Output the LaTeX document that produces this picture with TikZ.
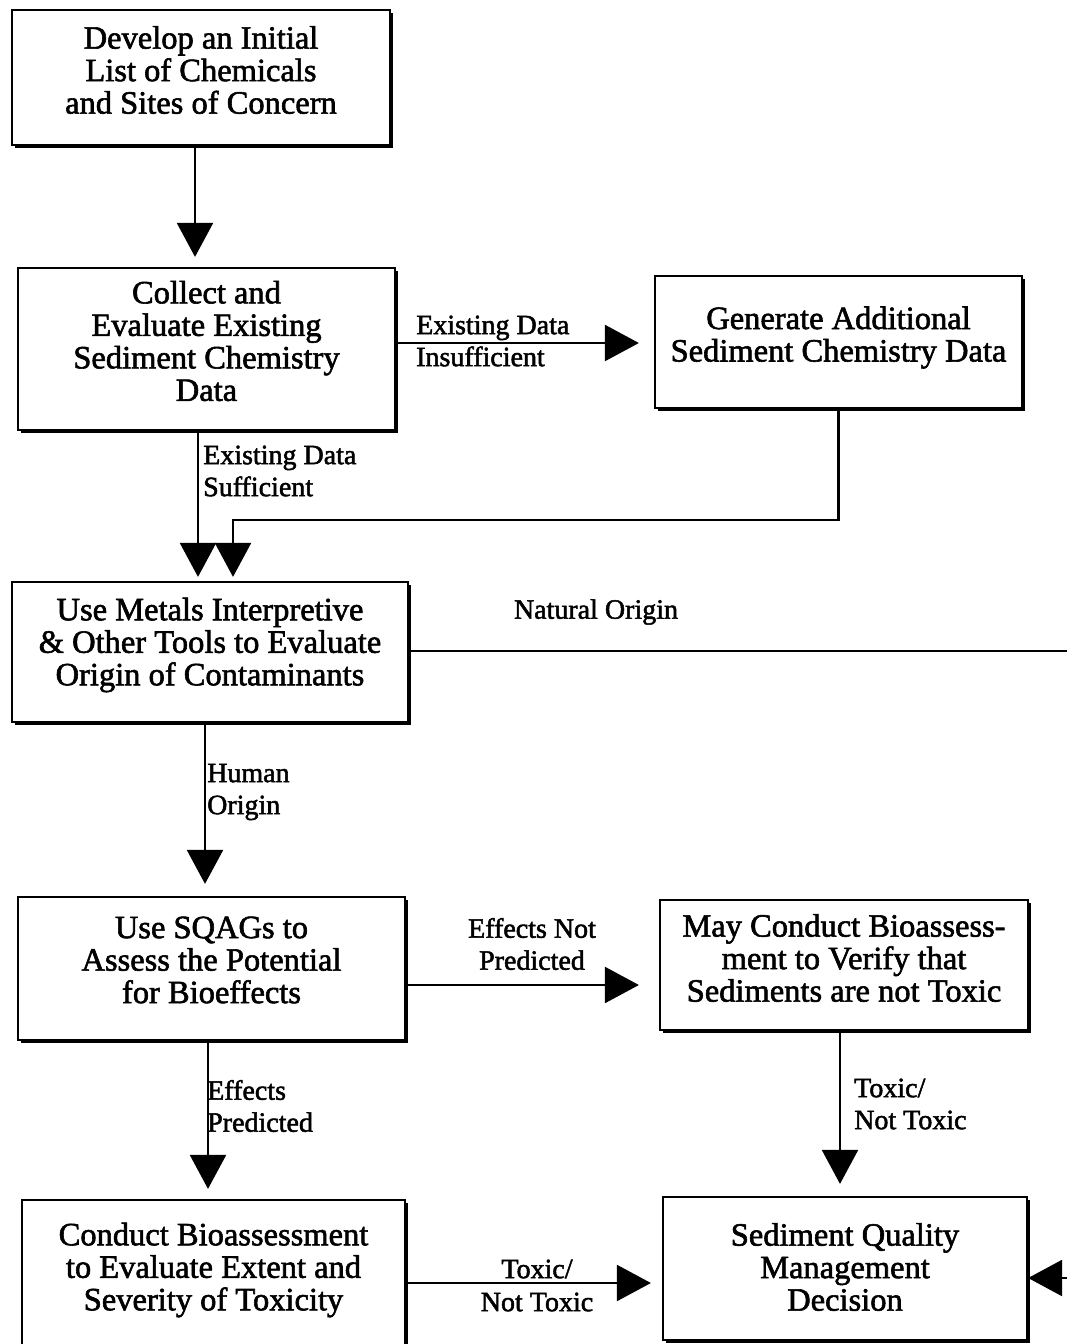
\documentclass[tikz,border=0pt]{standalone}
\usepackage{fontspec}
\setmainfont{Liberation Serif}[UprightFeatures={FakeBold=1.8}]
\usetikzlibrary{arrows.meta,shadows}
\begin{document}
\begin{tikzpicture}[x=1pt,y=-1pt,
  box/.style={draw,line width=2.2pt,fill=white,inner sep=0pt,
    drop shadow={shadow xshift=2.5pt,shadow yshift=-2.5pt,fill=black,opacity=1}},
  boxtext/.style={align=center,inner sep=0pt,font=\fontsize{32.5}{32.5}\selectfont},
  lbl/.style={font=\fontsize{28}{32}\selectfont,inner sep=0pt},
  arr/.style={line width=2.2pt,-{Triangle[length=34pt,width=36pt]}},
  ln/.style={line width=2.2pt}]
\useasboundingbox (0,0) rectangle (1067,1344);

% process boxes (text placed as a centred label, raised slightly)
\node[box,minimum width=378pt,minimum height=135pt,
  label={[boxtext,yshift=7.5pt]center:Develop an Initial\\List of Chemicals\\and Sites of Concern}]
  (A) at (201,77.5) {};
\node[box,minimum width=377pt,minimum height=162pt,
  label={[boxtext,yshift=8pt]center:Collect and\\Evaluate Existing\\Sediment Chemistry\\Data}]
  (B) at (206.5,349) {};
\node[box,minimum width=367pt,minimum height=132pt,
  label={[boxtext,yshift=4.5pt]center:Generate Additional\\Sediment Chemistry Data}]
  (C) at (838.5,342) {};
\node[box,minimum width=396pt,minimum height=140pt,
  label={[boxtext,yshift=7pt]center:Use Metals Interpretive\\\& Other Tools to Evaluate\\Origin of Contaminants}]
  (D) at (210,652) {};
\node[box,minimum width=387pt,minimum height=143pt,
  label={[boxtext,yshift=8.5pt]center:Use SQAGs to\\Assess the Potential\\for Bioeffects}]
  (E) at (211.5,968.5) {};
\node[box,minimum width=368pt,minimum height=130pt,
  label={[boxtext,yshift=7pt]center:May Conduct Bioassess-\\ment to Verify that\\Sediments are not Toxic}]
  (F) at (844,965) {};
\node[box,minimum width=383pt,minimum height=150pt,
  label={[boxtext,yshift=5pt]center:Conduct Bioassessment\\to Evaluate Extent and\\Severity of Toxicity}]
  (G) at (213.5,1275) {};
\node[box,minimum width=364pt,minimum height=143pt,
  label={[boxtext,yshift=1.5pt]center:Sediment Quality\\Management\\Decision}]
  (H) at (845,1268.5) {};

% loose ends at the right margin
\coordinate (offA) at (1067,651);
\coordinate (offB) at (1067,1278);
\coordinate (join) at (233,520);

% connectors
\draw[arr,shorten >=10pt] (A.south -| 195,0) -- (B.north -| 195,0);
\draw[arr,shorten >=15pt] (B.east |- 0,343) -- (C.west |- 0,343);
\draw[arr,shorten >=4pt] (B.south -| 198,0) -- (D.north -| 198,0);
\draw[arr,shorten >=4pt] (C.south) |- (join) -- (D.north -| join);
\draw[ln] (D.east |- offA) -- (offA);
\draw[arr] (offB) -- (H.east |- offB);
\draw[arr,shorten >=12pt] (D.south -| 205,0) -- (E.north -| 205,0);
\draw[arr,shorten >=20pt] (E.east |- 0,985) -- (F.west |- 0,985);
\draw[arr,shorten >=10pt] (E.south -| 208,0) -- (G.north -| 208,0);
\draw[arr,shorten >=12pt] (F.south -| 840,0) -- (H.north -| 840,0);
\draw[arr,shorten >=11pt] (G.east |- 0,1283) -- (H.west |- 0,1283);

% connector labels
\node[lbl,anchor=west,align=left] (l1) at (416,341) {Existing Data\\Insufficient};
\node[lbl,anchor=west,align=left] (l2) at (203,471) {Existing Data\\Sufficient};
\node[lbl] (l3) at (596,612) {Natural Origin};
\node[lbl,anchor=west,align=left] (l4) at (207,792) {Human\\Origin};
\node[lbl,align=center] (l5) at (532,944) {Effects Not\\Predicted};
\node[lbl,anchor=west,align=left] (l6) at (207,1106) {Effects\\Predicted};
\node[lbl,anchor=west,align=left] (l7) at (854,1104) {Toxic/\\Not Toxic};
\node[lbl] (l8) at (537,1269) {Toxic/};
\node[lbl] (l9) at (537,1302) {Not Toxic};
\end{tikzpicture}
\end{document}
